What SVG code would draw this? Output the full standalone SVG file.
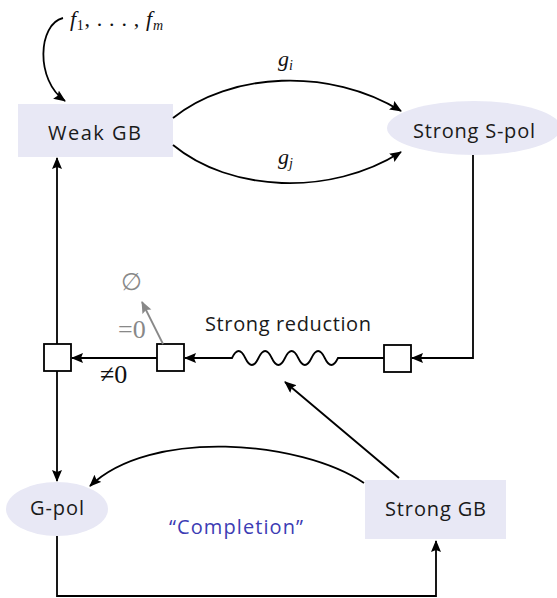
<svg xmlns="http://www.w3.org/2000/svg" width="557" height="598" viewBox="0 0 557 598">
<defs>
<style>
.node{fill:#e8e8f5;stroke:none}
.lbl{font-family:"Open Sans","Noto Sans",sans-serif;font-size:20px;fill:#1a1a1a}
.math{font-family:"Liberation Serif",serif;font-size:22px;fill:#111}
.edge{fill:none;stroke:#000;stroke-width:1.8}
.gray{fill:none;stroke:#888;stroke-width:1.8}
.sq{fill:#fff;stroke:#000;stroke-width:1.8}
</style>
<marker id="ah" markerUnits="userSpaceOnUse" markerWidth="14" markerHeight="12" refX="11" refY="5" orient="auto">
<path d="M0,0 L12,5 L0,10 L2,5 z" fill="#000"/>
</marker>
<marker id="ahg" markerUnits="userSpaceOnUse" markerWidth="14" markerHeight="12" refX="11" refY="5" orient="auto">
<path d="M0,0 L12,5 L0,10 L2,5 z" fill="#888"/>
</marker>
</defs>
<rect width="557" height="598" fill="#fff"/>

<g id="weakgb">
<rect class="node" x="18" y="104" width="155" height="53"/>
<text class="lbl" x="48" y="140" textLength="93">Weak GB</text>
</g>
<g id="strongspol">
<ellipse class="node" cx="474" cy="128" rx="87" ry="27"/>
<text class="lbl" x="413" y="138" textLength="122">Strong S-pol</text>
</g>
<g id="gpol">
<ellipse class="node" cx="57" cy="509" rx="51" ry="27"/>
<text class="lbl" x="30" y="515" textLength="54">G-pol</text>
</g>
<g id="stronggb">
<rect class="node" x="365" y="480" width="141" height="59"/>
<text class="lbl" x="385" y="516" textLength="101">Strong GB</text>
</g>
<g id="sq1"><rect class="sq" x="44" y="344" width="27" height="27"/></g>
<g id="sq2"><rect class="sq" x="157" y="344" width="27" height="27"/></g>
<g id="sq3"><rect class="sq" x="384" y="345" width="27" height="27"/></g>

<g id="connectors">
<path class="edge" d="M63,18 C38,24 35,80 65,101" marker-end="url(#ah)"/>
<path class="edge" d="M173,118 C230,72 330,67 401,111" marker-end="url(#ah)"/>
<path class="edge" d="M173,145 C230,192 330,197 401,152" marker-end="url(#ah)"/>
<path class="edge" d="M473,155 V358 H412" marker-end="url(#ah)"/>
<path class="edge" d="M384,358 H338 q-6.625,14 -13.25,0 t-13.25,0 t-13.25,0 t-13.25,0 t-13.25,0 t-13.25,0 t-13.25,0 t-13.25,0 H185" marker-end="url(#ah)"/>
<path class="edge" d="M157,358 H72" marker-end="url(#ah)"/>
<path class="gray" d="M163,344 L142,302" marker-end="url(#ahg)"/>
<path class="edge" d="M57,344 V158" marker-end="url(#ah)"/>
<path class="edge" d="M57,371 V481" marker-end="url(#ah)"/>
<path class="edge" d="M399,478 L285,382" marker-end="url(#ah)"/>
<path class="edge" d="M364,483 C300,440 150,428 90,486" marker-end="url(#ah)"/>
<path class="edge" d="M57,536 V596 H436 V541" marker-end="url(#ah)"/>
</g>

<g id="labels">
<text class="math" x="70" y="26" textLength="93"><tspan font-style="italic">f</tspan><tspan font-size="14" dy="4">1</tspan><tspan dy="-4">, . . . , </tspan><tspan font-style="italic">f</tspan><tspan font-size="14" font-style="italic" dy="4">m</tspan></text>
<text class="math" x="278" y="66"><tspan font-style="italic">g</tspan><tspan font-size="14" font-style="italic" dy="4">i</tspan></text>
<text class="math" x="278" y="164"><tspan font-style="italic">g</tspan><tspan font-size="14" font-style="italic" dy="4">j</tspan></text>
<text class="lbl" x="205" y="331" textLength="166">Strong reduction</text>
<text class="math" x="121" y="290" style="fill:#888;font-size:24px">∅</text>
<text class="math" x="118" y="338" style="fill:#888;font-size:26px">=0</text>
<text class="math" x="100" y="383" style="font-size:26px">≠0</text>
<text class="lbl" x="169" y="534" textLength="134" style="fill:#3c3cb4">“Completion”</text>
</g>
</svg>
